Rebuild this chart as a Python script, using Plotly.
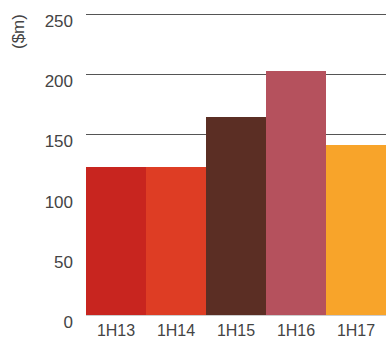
import plotly.graph_objects as go

periods = ["1H13", "1H14", "1H15", "1H16", "1H17"]
values = [123, 123, 164.5, 202.5, 141]
colors = ["#C8251F", "#DE3D24", "#5B2E24", "#B5515D", "#F8A42A"]
y_ticks = [0, 50, 100, 150, 200, 250]
y_title = "($m)"

font_family = "Liberation Sans"
text_color = "#444444"

y_top = 251
plot_top_px = 13
plot_bottom_px = 315

fig = go.Figure(
    go.Bar(x=periods, y=values, marker=dict(color=colors, line=dict(width=0)))
)

fig.update_layout(
    width=386,
    height=339,
    margin=dict(l=86, r=0, t=plot_top_px, b=339 - plot_bottom_px, autoexpand=False),
    paper_bgcolor="white",
    plot_bgcolor="white",
    bargap=0,
    showlegend=False,
    font=dict(family=font_family, size=17, color=text_color),
    xaxis=dict(
        showgrid=False,
        showline=False,
        ticks="",
        tickfont=dict(size=16, color=text_color),
        ticklabelstandoff=4,
        automargin=False,
    ),
    yaxis=dict(
        range=[0, y_top],
        tickvals=y_ticks,
        showgrid=True,
        gridcolor="#555555",
        gridwidth=1.3,
        zeroline=True,
        zerolinecolor="#cccccc",
        zerolinewidth=1,
        showline=False,
        ticks="",
        ticklabelstandoff=12,
        ticklabelshift=7,
        tickfont=dict(size=17, color=text_color),
        automargin=False,
    ),
)

fig.add_annotation(
    text=y_title,
    xref="paper",
    yref="paper",
    x=(18.5 - 86) / 300,
    y=(plot_bottom_px - 31.5) / (plot_bottom_px - plot_top_px),
    xanchor="center",
    yanchor="middle",
    textangle=-90,
    showarrow=False,
    font=dict(size=17, color=text_color, family=font_family),
)

fig.write_html("out.html")
